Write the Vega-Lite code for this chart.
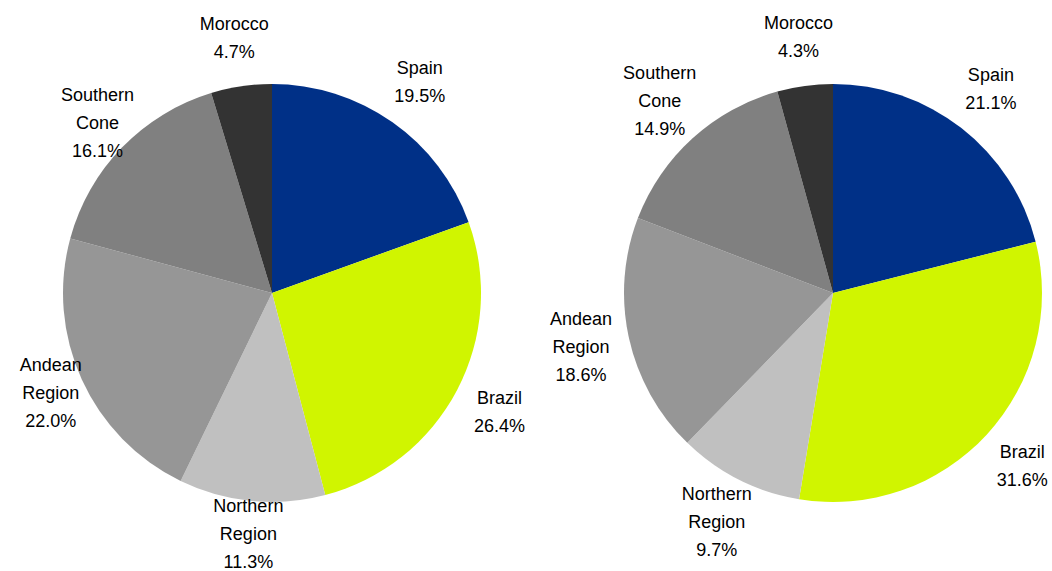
{
  "$schema": "https://vega.github.io/schema/vega-lite/v6.json",
  "padding": 0,
  "spacing": 70,
  "bounds": "flush",
  "background": "white",
  "config": {"view": {"stroke": null}},
  "datasets": {
    "pies": [
      {"chart": "A", "ord": 1, "region": "Spain", "label": "Spain\n19.5%", "share": 19.5},
      {"chart": "A", "ord": 2, "region": "Brazil", "label": "Brazil\n26.4%", "share": 26.4},
      {"chart": "A", "ord": 3, "region": "Northern Region", "label": "Northern\nRegion\n11.3%", "share": 11.3},
      {"chart": "A", "ord": 4, "region": "Andean Region", "label": "Andean\nRegion\n22.0%", "share": 22.0},
      {"chart": "A", "ord": 5, "region": "Southern Cone", "label": "Southern\nCone\n16.1%", "share": 16.1},
      {"chart": "A", "ord": 6, "region": "Morocco", "label": "Morocco\n4.7%", "share": 4.7},
      {"chart": "B", "ord": 1, "region": "Spain", "label": "Spain\n21.1%", "share": 21.1},
      {"chart": "B", "ord": 2, "region": "Brazil", "label": "Brazil\n31.6%", "share": 31.6},
      {"chart": "B", "ord": 3, "region": "Northern Region", "label": "Northern\nRegion\n9.7%", "share": 9.7},
      {"chart": "B", "ord": 4, "region": "Andean Region", "label": "Andean\nRegion\n18.6%", "share": 18.6},
      {"chart": "B", "ord": 5, "region": "Southern Cone", "label": "Southern\nCone\n14.9%", "share": 14.9},
      {"chart": "B", "ord": 6, "region": "Morocco", "label": "Morocco\n4.3%", "share": 4.3}
    ]
  },
  "hconcat": [
    {
      "width": 544,
      "height": 558,
      "data": {"name": "pies"},
      "transform": [{"filter": "datum.chart === 'A'"}],
      "encoding": {
        "theta": {"field": "share", "type": "quantitative", "stack": true},
        "order": {"field": "ord", "type": "quantitative"}
      },
      "layer": [
        {
          "mark": {"type": "arc", "outerRadius": 209},
          "encoding": {
            "color": {
              "field": "region", "type": "nominal", "legend": null,
              "scale": {
                "domain": ["Spain", "Brazil", "Northern Region", "Andean Region", "Southern Cone", "Morocco"],
                "range": ["#003087", "#d0f500", "#c0c0c0", "#969696", "#808080", "#333333"]
              }
            }
          }
        },
        {
          "mark": {"type": "text", "radius": 257, "dy": -14, "font": "Liberation Sans", "fontSize": 18, "lineHeight": 28, "lineBreak": "\n", "color": "#000000", "align": "center", "baseline": "middle"},
          "encoding": {
            "text": {"condition": {"test": "split(datum.label, '\\n').length == 2", "field": "label", "type": "nominal"}, "value": ""}
          }
        },
        {
          "mark": {"type": "text", "radius": 243, "dy": -28, "font": "Liberation Sans", "fontSize": 18, "lineHeight": 28, "lineBreak": "\n", "color": "#000000", "align": "center", "baseline": "middle"},
          "encoding": {
            "text": {"condition": {"test": "split(datum.label, '\\n').length == 3", "field": "label", "type": "nominal"}, "value": ""}
          }
        }
      ]
    },
    {
      "width": 438,
      "height": 558,
      "data": {"name": "pies"},
      "transform": [{"filter": "datum.chart === 'B'"}],
      "encoding": {
        "theta": {"field": "share", "type": "quantitative", "stack": true},
        "order": {"field": "ord", "type": "quantitative"}
      },
      "layer": [
        {
          "mark": {"type": "arc", "outerRadius": 209},
          "encoding": {
            "color": {
              "field": "region", "type": "nominal", "legend": null,
              "scale": {
                "domain": ["Spain", "Brazil", "Northern Region", "Andean Region", "Southern Cone", "Morocco"],
                "range": ["#003087", "#d0f500", "#c0c0c0", "#969696", "#808080", "#333333"]
              }
            }
          }
        },
        {
          "mark": {"type": "text", "radius": 257, "dy": -14, "font": "Liberation Sans", "fontSize": 18, "lineHeight": 28, "lineBreak": "\n", "color": "#000000", "align": "center", "baseline": "middle"},
          "encoding": {
            "text": {"condition": {"test": "split(datum.label, '\\n').length == 2", "field": "label", "type": "nominal"}, "value": ""}
          }
        },
        {
          "mark": {"type": "text", "radius": 258, "dy": -28, "font": "Liberation Sans", "fontSize": 18, "lineHeight": 28, "lineBreak": "\n", "color": "#000000", "align": "center", "baseline": "middle"},
          "encoding": {
            "text": {"condition": {"test": "split(datum.label, '\\n').length == 3", "field": "label", "type": "nominal"}, "value": ""}
          }
        }
      ]
    }
  ]
}
